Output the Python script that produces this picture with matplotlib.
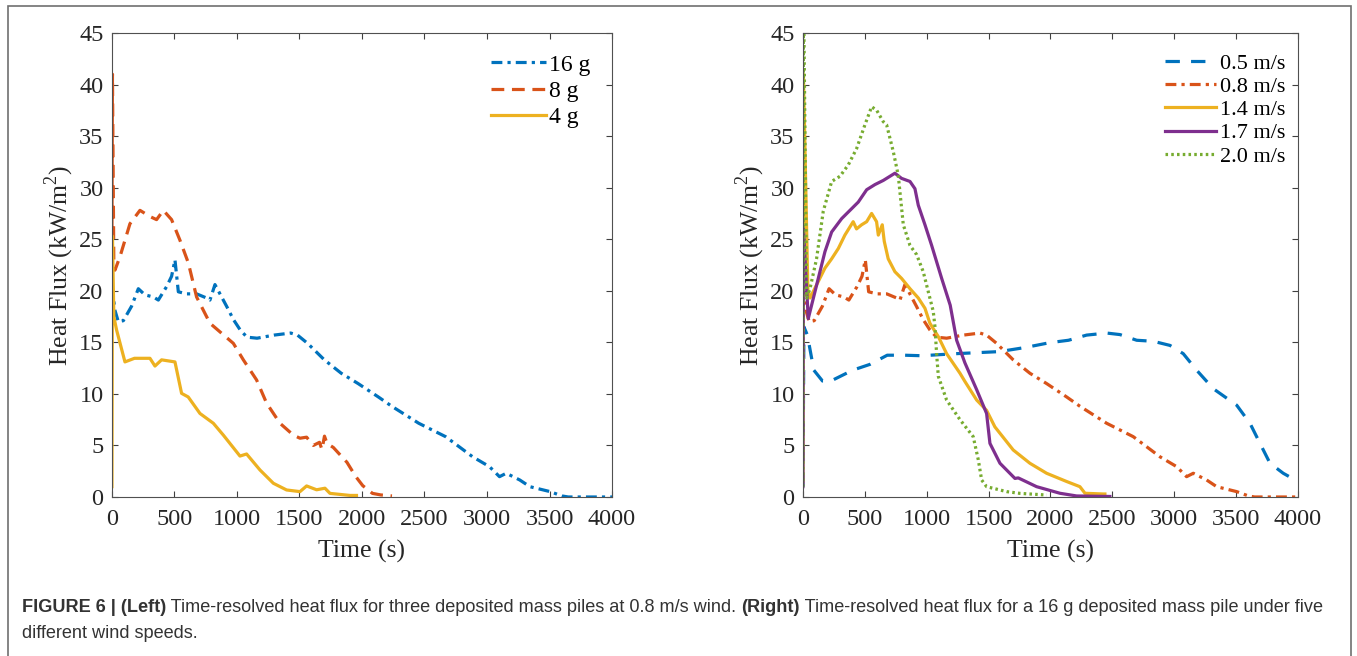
import matplotlib
matplotlib.use("Agg")
import matplotlib.pyplot as plt
from matplotlib.patches import Rectangle

# ---- data (time in s, heat flux in kW/m2) ----
# 16 g pile at 0.8 m/s (left, blue) -- same run as 0.8 m/s on the right
t_16g = [0, 24, 51, 91, 157, 211, 264, 331, 371, 437, 477, 504, 531, 597, 677,
         757, 784, 824, 864, 917, 972, 1026, 1080, 1161, 1296, 1430, 1484, 1565,
         1699, 1834, 1969, 2131, 2238, 2454, 2669, 2885, 3020, 3100, 3154, 3262,
         3343, 3505, 3600, 3650, 4000]
v_16g = [20.5, 18.1, 17.0, 17.1, 18.5, 20.2, 19.6, 19.4, 19.1, 20.4, 21.4, 23.0,
         19.9, 19.7, 19.7, 19.3, 19.1, 20.6, 19.7, 18.5, 17.2, 16.2, 15.5, 15.4,
         15.7, 15.9, 15.7, 14.9, 13.3, 12.0, 11.0, 9.7, 8.8, 7.15, 5.85, 3.9,
         2.94, 1.97, 2.3, 1.65, 1.0, 0.52, 0.1, 0.0, 0.0]

t_8g = [0, 4, 15, 24, 64, 144, 224, 304, 357, 411, 477, 544, 611, 677, 784, 971,
        1051, 1157, 1237, 1344, 1451, 1504, 1557, 1611, 1660, 1680, 1700, 1720,
        1771, 1880, 1949, 2006, 2084, 2150, 2240]
v_8g = [26, 41, 22.5, 22.0, 23.3, 26.5, 27.8, 27.2, 26.9, 27.8, 26.9, 24.9, 22.7,
        19.4, 16.85, 14.9, 13.3, 11.35, 9.1, 7.15, 6.0, 5.7, 5.8, 5.0, 5.3, 4.6,
        5.9, 5.2, 4.8, 3.36, 2.0, 1.1, 0.35, 0.2, 0.1]

t_4g = [0, 4, 15, 37, 104, 180, 304, 344, 397, 504, 557, 610, 704, 811, 891,
        1024, 1077, 1184, 1291, 1397, 1504, 1557, 1637, 1704, 1744, 1904, 1956]
v_4g = [1, 25.3, 17.5, 16.2, 13.1, 13.45, 13.45, 12.7, 13.3, 13.1, 10.05, 9.7,
        8.1, 7.15, 6.0, 3.97, 4.17, 2.62, 1.33, 0.68, 0.52, 1.07, 0.7, 0.85, 0.35,
        0.15, 0.15]

# 16 g pile, five wind speeds (right)
t_05 = [0, 8, 36, 88, 158, 226, 402, 541, 681, 820, 960, 1239, 1588, 1797, 1996,
        2146, 2292, 2454, 2562, 2697, 2831, 2966, 3073, 3181, 3316, 3505, 3612,
        3693, 3774, 3881, 4000]
v_05 = [1, 16.5, 15.7, 12.3, 11.25, 11.25, 12.3, 12.86, 13.75, 13.75, 13.7, 13.9,
        14.1, 14.5, 14.97, 15.2, 15.7, 15.9, 15.75, 15.2, 15.1, 14.7, 13.9, 12.3,
        10.5, 8.9, 7.15, 5.2, 3.27, 2.3, 1.5]

t_14 = [0, 4, 40, 57, 124, 178, 232, 286, 339, 406, 433, 474, 515, 555, 595, 609,
        641, 657, 689, 743, 797, 865, 932, 986, 1026, 1094, 1161, 1269, 1309, 1404,
        1484, 1551, 1699, 1834, 1969, 2131, 2238, 2279, 2427, 2440]
v_14 = [1.5, 41, 20, 19.3, 20.9, 22.2, 23.1, 24.1, 25.4, 26.7, 26.0, 26.4, 26.7,
        27.5, 26.7, 25.4, 26.4, 24.8, 23.1, 21.85, 21.2, 20.2, 19.3, 18.3, 16.85,
        15.55, 13.9, 12.0, 11.2, 9.4, 8.4, 6.8, 4.56, 3.27, 2.3, 1.5, 1.0, 0.36,
        0.29, 0.29]

t_17 = [0, 4, 43, 124, 178, 232, 313, 380, 447, 515, 582, 649, 743, 797, 865, 905,
        932, 986, 1040, 1121, 1190, 1242, 1309, 1404, 1484, 1511, 1592, 1713, 1740,
        1888, 2077, 2211, 2480]
v_17 = [1, 26, 17.3, 21.2, 23.8, 25.7, 27.0, 27.8, 28.6, 29.8, 30.3, 30.7, 31.4,
        30.9, 30.6, 29.9, 28.3, 26.4, 24.4, 21.2, 18.6, 15.2, 13.0, 10.4, 8.1, 5.2,
        3.27, 1.8, 1.85, 1.0, 0.36, 0.1, 0.05]

t_20 = [0, 4, 30, 57, 110, 164, 232, 299, 366, 434, 501, 555, 596, 649, 676, 730,
        770, 811, 865, 919, 972, 1013, 1053, 1067, 1080, 1094, 1161, 1269, 1376,
        1417, 1444, 1484, 1646, 1754, 1956, 1970]
v_20 = [1, 50, 19.3, 20.2, 23.1, 27.7, 30.6, 31.1, 32.2, 33.8, 36.1, 37.85, 37.5,
        36.4, 36.1, 33.5, 31.2, 26.4, 24.4, 23.5, 21.85, 19.9, 18.0, 16.5, 13.9,
        11.7, 9.4, 7.5, 5.85, 3.6, 1.65, 1.0, 0.52, 0.35, 0.2, 0.2]

BLUE, ORANGE, YELLOW, PURPLE, GREEN = "#0072BD", "#D95319", "#EDB120", "#7E2F8E", "#77AC30"
DASH = (0, (4.0, 2.4))
DASHDOT = (0, (3.4, 1.6, 1.0, 1.6))
DOT = (0, (0.8, 1.0))
LW = 2.3

plt.rcParams["font.family"] = ["Liberation Serif", "DejaVu Serif"]
plt.rcParams["mathtext.fontset"] = "custom"
plt.rcParams["mathtext.rm"] = "Liberation Serif"

fig = plt.figure(figsize=(13.57, 6.56), dpi=100)
ax1 = fig.add_axes([0.0825, 0.2424, 0.3685, 0.7073])
ax2 = fig.add_axes([0.5917, 0.2424, 0.3648, 0.7073])


def style(ax):
    ax.set_xlim(0, 4000)
    ax.set_ylim(0, 45)
    ax.set_xticks(range(0, 4001, 500))
    ax.set_yticks(range(0, 46, 5))
    ax.tick_params(direction="in", top=True, right=True, length=4.5, width=0.8,
                   labelsize=17.5, colors="#404040", labelcolor="#262626")
    ax.tick_params(axis="x", pad=9)
    ax.tick_params(axis="y", pad=6)
    for s in ax.spines.values():
        s.set_color("#505050")
        s.set_linewidth(0.8)
    ax.set_xlabel("Time (s)", fontsize=18.5, color="#262626", labelpad=6.5)
    ax.set_ylabel("Heat Flux (kW/m$^2$)", fontsize=18.5, color="#262626", labelpad=2)


ax1.plot(t_16g, v_16g, color=BLUE, lw=LW, ls=DASHDOT, label="16 g")
ax1.plot(t_8g, v_8g, color=ORANGE, lw=LW, ls=DASH, label="8 g")
ax1.plot(t_4g, v_4g, color=YELLOW, lw=LW, ls="-", label="4 g")
style(ax1)
ax1.legend(loc="upper right", bbox_to_anchor=(0.99, 0.99), frameon=False,
           fontsize=17, handlelength=2.3, handletextpad=0.15, labelspacing=0.2,
           borderpad=0.2)

ax2.plot(t_05, v_05, color=BLUE, lw=LW, ls=(0, (4.5, 3.5)), label="0.5 m/s")
ax2.plot(t_16g, v_16g, color=ORANGE, lw=LW, ls=DASHDOT, label="0.8 m/s")
ax2.plot(t_14, v_14, color=YELLOW, lw=LW, ls="-", label="1.4 m/s")
ax2.plot(t_17, v_17, color=PURPLE, lw=LW, ls="-", label="1.7 m/s")
ax2.plot(t_20, v_20, color=GREEN, lw=LW, ls=DOT, label="2.0 m/s")
style(ax2)
ax2.legend(loc="upper right", bbox_to_anchor=(1.005, 0.99), frameon=False,
           fontsize=16, handlelength=2.3, handletextpad=0.15, labelspacing=0.12,
           borderpad=0.2)

# frame around the whole figure
fig.patches.append(Rectangle((8 / 1357, -0.02), (1350.5 - 8) / 1357, 1.02 - 6 / 656,
                             transform=fig.transFigure, fill=False,
                             edgecolor="#707070", lw=1.2))

# caption with mixed bold / regular runs
cap_font = dict(family=["Liberation Sans", "DejaVu Sans"], size=13.05, color="#333333")
runs = [("FIGURE 6 | (Left)", "bold"),
        (" Time-resolved heat flux for three deposited mass piles at 0.8 m/s wind. ", "normal"),
        ("(Right)", "bold"),
        (" Time-resolved heat flux for a 16 g deposited mass pile under five", "normal")]
fig.canvas.draw()
renderer = fig.canvas.get_renderer()
x = 22 / 1357
for txt, wt in runs:
    t = fig.text(x, 1 - 608 / 656, txt, weight=wt, va="center", ha="left", **cap_font)
    bb = t.get_window_extent(renderer)
    x += bb.width / 1357
fig.text(22 / 1357, 1 - 633 / 656, "different wind speeds.", va="center", ha="left",
         **cap_font)

fig.savefig("out.png", dpi=100)
